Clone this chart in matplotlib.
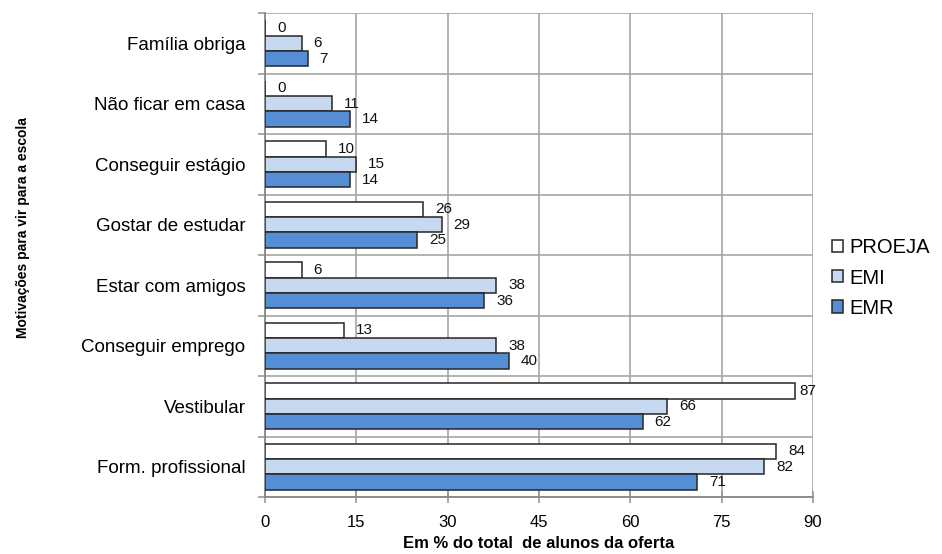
import numpy as np
import matplotlib
matplotlib.use('Agg')
import matplotlib.pyplot as plt

plt.rcParams['font.family'] = ['Liberation Sans', 'DejaVu Sans']

categorias = ['Família obriga', 'Não ficar em casa', 'Conseguir estágio',
              'Gostar de estudar', 'Estar com amigos', 'Conseguir emprego',
              'Vestibular', 'Form. profissional']
proeja = [0, 0, 10, 26, 6, 13, 87, 84]
emi = [6, 11, 15, 29, 38, 38, 66, 82]
emr = [7, 14, 14, 25, 36, 40, 62, 71]

series = [('PROEJA', proeja, '#FFFFFF'),
          ('EMI', emi, '#C6D9F1'),
          ('EMR', emr, '#558ED5')]

fig = plt.figure(figsize=(9.42, 5.54), dpi=100)
ax = fig.add_axes([265/942, 1 - 497/554, 548/942, 484/554])

y = np.arange(len(categorias))
h = 0.256
for i, (nome, vals, cor) in enumerate(series):
    pos = y + (i - 1) * h
    ax.barh(pos, vals, height=h, color=cor, edgecolor='#262626',
            linewidth=1.1, label=nome, zorder=3)
    for p, v in zip(pos, vals):
        dx = 12 if v < 85 else 5
        ax.annotate(str(v), (v, p), xytext=(dx, 0), textcoords='offset pixels',
                    va='center', ha='left', fontsize=11, color='#111111',
                    zorder=4)

ax.set_xlim(0, 90)
ax.set_ylim(len(categorias) - 0.5, -0.5)

ax.set_xticks(np.arange(0, 91, 15))
ax.tick_params(axis='x', direction='inout', length=8, width=1.2,
               color='#999999', labelsize=12, pad=9)

# category boundaries as major ticks (grid), names on minor ticks
ax.set_yticks(np.arange(-0.5, len(categorias), 1))
ax.set_yticklabels([])
ax.set_yticks(y, minor=True)
ax.set_yticklabels(categorias, minor=True, fontsize=13.5)
ax.tick_params(axis='y', which='major', direction='out', length=5,
               width=1.2, color='#999999')
ax.tick_params(axis='y', which='minor', length=0, pad=14)

ax.grid(True, which='major', color='#A6A6A6', linewidth=1.2, zorder=0)
for s in ['top', 'right']:
    ax.spines[s].set_visible(False)
for s in ['left', 'bottom']:
    ax.spines[s].set_color('#888888')
    ax.spines[s].set_linewidth(1.3)

ax.set_xlabel('Em % do total  de alunos da oferta', fontsize=12,
              fontweight='bold', labelpad=4)
fig.text(23/942, 1 - 228/554, 'Motivações para vir para a escola',
         rotation=90, ha='center', va='center', fontsize=10,
         fontweight='bold')

handles, labels = ax.get_legend_handles_labels()
fig.legend(handles, labels, loc='center left',
           bbox_to_anchor=(832/942, 1 - 278/554), frameon=False,
           fontsize=14.5, handlelength=0.55, handleheight=0.55,
           handletextpad=0.3, labelspacing=0.55, borderaxespad=0,
           borderpad=0)

fig.savefig('out.png', dpi=100)
